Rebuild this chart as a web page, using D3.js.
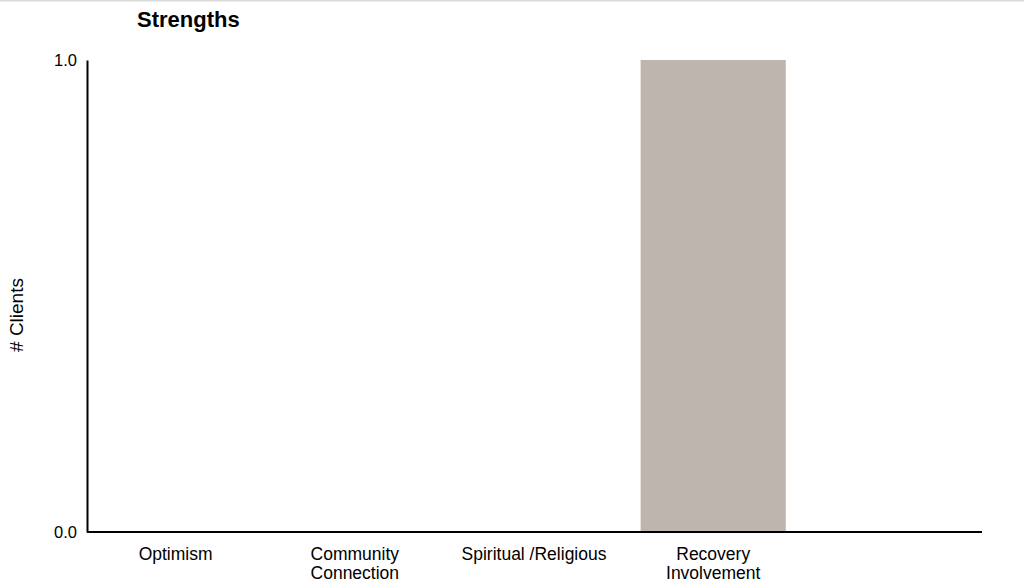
<!DOCTYPE html>
<html>
<head>
<meta charset="utf-8">
<script src="https://cdn.jsdelivr.net/npm/d3@7/dist/d3.min.js"></script>
<style>
  html, body { margin: 0; padding: 0; background: #fff; }
  svg { display: block; font-family: "Liberation Sans", Arial, sans-serif; }
</style>
</head>
<body>
<svg id="chart" width="1024" height="586"></svg>
<script>
const categories = [["Optimism"], ["Community", "Connection"], ["Spiritual /Religious"], ["Recovery", "Involvement"], [""]];
const values = [0, 0, 0, 1, 0];
const yTicks = [0, 1];
const title = "Strengths";
const yLabel = "# Clients";

const svg = d3.select("#chart");
const W = 1024, H = 586;
const m = { left: 87, right: 42, top: 60, bottom: 54 };
const iw = W - m.left - m.right, ih = H - m.top - m.bottom;

svg.append("line").attr("x1", 0).attr("x2", W).attr("y1", 0.5).attr("y2", 0.5)
  .attr("stroke", "#d9d9d9").attr("stroke-width", 2);

const keys = categories.map((c, i) => i);
const x = d3.scaleBand().domain(keys).range([-1, iw]).paddingInner(0.19).paddingOuter(0.095);
const y = d3.scaleLinear().domain([0, 1]).range([ih, 0]);

const g = svg.append("g").attr("transform", `translate(${m.left},${m.top})`);

g.selectAll("rect.bar").data(values).join("rect").attr("class", "bar")
  .attr("x", (d, i) => x(i)).attr("width", x.bandwidth())
  .attr("y", d => y(d)).attr("height", d => ih - y(d))
  .attr("fill", "#bfb5af");

const ya = g.append("g").call(d3.axisLeft(y).tickValues(yTicks).tickFormat(d3.format(".1f")).tickSize(0).tickPadding(10));
ya.select(".domain").attr("stroke", "#000").attr("stroke-width", 2);
ya.selectAll("text").attr("font-size", 16.5).attr("fill", "#000").attr("font-family", "Liberation Sans, Arial, sans-serif");

const xa = g.append("g").attr("transform", `translate(0,${ih})`)
  .call(d3.axisBottom(x).tickSize(0).tickFormat(() => ""));
xa.select(".domain").attr("stroke", "#000").attr("stroke-width", 2).attr("d", `M0,0H${iw}`);
xa.selectAll(".tick").each(function(d) {
  const t = d3.select(this).select("text").text(null)
    .attr("font-size", 17.5).attr("fill", "#000").attr("y", 0).attr("dy", null)
    .attr("font-family", "Liberation Sans, Arial, sans-serif");
  categories[d].forEach((line, j) => {
    t.append("tspan").attr("x", 0).attr("y", 28 + j * 19).text(line);
  });
});

svg.append("text").attr("x", 137).attr("y", 27).attr("font-size", 22).attr("font-weight", "bold")
  .attr("fill", "#000").text(title);

svg.append("text").attr("transform", `translate(23,${m.top + ih / 2 + 19}) rotate(-90)`)
  .attr("text-anchor", "middle").attr("font-size", 19).attr("fill", "#000").text(yLabel);
</script>
</body>
</html>
